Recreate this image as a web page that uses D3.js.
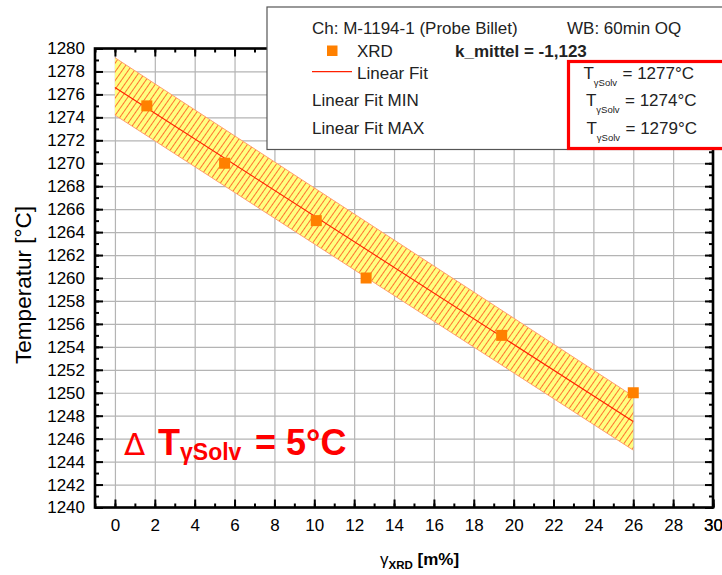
<!DOCTYPE html>
<html>
<head>
<meta charset="utf-8">
<script src="https://cdn.jsdelivr.net/npm/d3@7"></script>
<style>
  html, body { margin: 0; padding: 0; background: #fff; }
  svg { display: block; }
  text { font-family: "Liberation Sans", Arial, sans-serif; }
</style>
</head>
<body>
<svg id="chart" width="722" height="575"></svg>
<script>
// ---------------- data ----------------
const xrdX = [1.6, 5.5, 10.1, 12.6, 19.4, 26.0];
const xrdT = [1275, 1270, 1265, 1260, 1255, 1250];
const fitX = [0, 26];
const fitT = [1276.6, 1247.5];
const fitMinT = [1274.2, 1245.0];
const fitMaxT = [1279.2, 1249.7];
const xTickVals = d3.range(0, 31, 2);
const yTickVals = d3.range(1240, 1281, 2);
const xMinorVals = d3.range(-1, 31, 1);
const yMinorVals = d3.range(1240, 1281, 1);
const legendLines = ["Ch: M-1194-1 (Probe Billet)", "WB: 60min OQ", "XRD", "k_mittel = -1,123", "Linear Fit", "Linear Fit MIN", "Linear Fit MAX"];
const tSolvValues = ["1277", "1274", "1279"];

// ---------------- layout ----------------
const svg = d3.select("#chart");
const L = 95, R = 713, T = 48.5, B = 507.5;
const x = d3.scaleLinear().domain([-1, 30]).range([L, R]);
const y = d3.scaleLinear().domain([1240, 1280]).range([B, T]);

const defs = svg.append("defs");
const pat = defs.append("pattern")
  .attr("id", "hatch").attr("patternUnits", "userSpaceOnUse")
  .attr("width", 5).attr("height", 10)
  .attr("patternTransform", "rotate(35)");
pat.append("rect").attr("width", 5).attr("height", 10).attr("fill", "#ffff80");
pat.append("line").attr("x1", 0.5).attr("x2", 0.5).attr("y1", 0).attr("y2", 10)
  .attr("stroke", "#ff5a20").attr("stroke-width", 0.85);

// grid
const gGrid = svg.append("g");
gGrid.append("g").attr("transform", `translate(0,${B})`)
  .call(d3.axisBottom(x).tickValues(xTickVals).tickSize(-(B - T)).tickFormat(""))
  .call(g => { g.select(".domain").remove(); g.selectAll("line").attr("stroke", "#b4b4b4").attr("stroke-width", 1.2); });
gGrid.append("g").attr("transform", `translate(${L},0)`)
  .call(d3.axisLeft(y).tickValues(yTickVals).tickSize(-(R - L)).tickFormat(""))
  .call(g => { g.select(".domain").remove(); g.selectAll("line").attr("stroke", "#b4b4b4").attr("stroke-width", 1.2); });

// band
const bandData = fitX.map((d, i) => ({ x: d, lo: fitMinT[i], hi: fitMaxT[i] }));
svg.append("path").datum(bandData)
  .attr("d", d3.area().x(d => x(d.x)).y0(d => y(d.lo)).y1(d => y(d.hi)))
  .attr("fill", "url(#hatch)");
const edge = d3.line().x(d => x(d[0])).y(d => y(d[1]));
svg.append("path").datum(fitX.map((d, i) => [d, fitMinT[i]])).attr("d", edge)
  .attr("fill", "none").attr("stroke", "#ffa070").attr("stroke-width", 1);
svg.append("path").datum(fitX.map((d, i) => [d, fitMaxT[i]])).attr("d", edge)
  .attr("fill", "none").attr("stroke", "#ffa070").attr("stroke-width", 1);
svg.append("path").datum(fitX.map((d, i) => [d, fitT[i]])).attr("d", edge)
  .attr("fill", "none").attr("stroke", "#ff2000").attr("stroke-width", 1.1);

// points
svg.append("g").selectAll("rect").data(xrdX.map((d, i) => [d, xrdT[i]])).join("rect")
  .attr("x", d => x(d[0]) - 5.5).attr("y", d => y(d[1]) - 5.5)
  .attr("width", 11).attr("height", 11).attr("fill", "#ff8000");

// axes
function styleAxis(g) {
  g.select(".domain").remove();
  g.selectAll("line").attr("stroke", "#000").attr("stroke-width", 2);
  g.selectAll("text").attr("fill", "#000").style("font-size", "17px");
}
// left
svg.append("g").attr("transform", `translate(${L},0)`)
  .call(d3.axisLeft(y).tickValues(yTickVals).tickSize(-8).tickPadding(10).tickFormat(d3.format("d")))
  .call(styleAxis).call(g => g.selectAll("text").attr("text-anchor", "end"));
svg.append("g").attr("transform", `translate(${L},0)`)
  .call(d3.axisLeft(y).tickValues(yMinorVals).tickSize(-4).tickFormat(""))
  .call(styleAxis);
// right
svg.append("g").attr("transform", `translate(${R},0)`)
  .call(d3.axisRight(y).tickValues(yTickVals).tickSize(-8).tickFormat(""))
  .call(styleAxis);
svg.append("g").attr("transform", `translate(${R},0)`)
  .call(d3.axisRight(y).tickValues(yMinorVals).tickSize(-4).tickFormat(""))
  .call(styleAxis);
// bottom
svg.append("g").attr("transform", `translate(0,${B})`)
  .call(d3.axisBottom(x).tickValues(xTickVals.concat([30])).tickSize(-8).tickPadding(11).tickFormat(d3.format("d")))
  .call(styleAxis);
svg.append("g").attr("transform", `translate(0,${B})`)
  .call(d3.axisBottom(x).tickValues(xMinorVals).tickSize(-4).tickFormat(""))
  .call(styleAxis);
// top
svg.append("g").attr("transform", `translate(0,${T})`)
  .call(d3.axisTop(x).tickValues(xTickVals).tickSize(-8).tickFormat(""))
  .call(styleAxis);
svg.append("g").attr("transform", `translate(0,${T})`)
  .call(d3.axisTop(x).tickValues(xMinorVals).tickSize(-4).tickFormat(""))
  .call(styleAxis);
// frame
svg.append("rect").attr("x", L).attr("y", T).attr("width", R - L).attr("height", B - T)
  .attr("fill", "none").attr("stroke", "#000").attr("stroke-width", 2.6);

// axis titles
svg.append("text").attr("transform", `translate(31,${(T + B) / 2 + 7}) rotate(-90)`)
  .attr("text-anchor", "middle").style("font-size", "22.5px").text("Temperatur [°C]");
const xt = svg.append("text").attr("x", 380).attr("y", 565).attr("text-anchor", "start").style("font-size", "17px");
xt.append("tspan").text("γ");
xt.append("tspan").attr("dy", 4).style("font-size", "11.5px").style("font-weight", "bold").text("XRD");
xt.append("tspan").attr("dy", -4).style("font-weight", "bold").text(" [m%]");

// legend
const lg = svg.append("g");
lg.append("rect").attr("x", 267).attr("y", 7).attr("width", 480).attr("height", 142.5)
  .attr("fill", "#fff").attr("stroke", "#555").attr("stroke-width", 1.2);
const lt = (tx, ty, s, bold) => lg.append("text").attr("x", tx).attr("y", ty)
  .style("font-size", "17px").style("font-weight", bold ? "bold" : "normal").attr("fill", "#222").text(s);
lt(312, 34, legendLines[0]);
lt(567, 34, legendLines[1]);
lg.append("rect").attr("x", 327).attr("y", 45.5).attr("width", 10.5).attr("height", 10.5).attr("fill", "#ff8000");
lt(357, 57, legendLines[2]);
lt(455, 57, legendLines[3], true);
lg.append("line").attr("x1", 312).attr("x2", 352).attr("y1", 71.7).attr("y2", 71.7)
  .attr("stroke", "#ff2000").attr("stroke-width", 1.2);
lt(357, 78.5, legendLines[4]);
lt(312, 106, legendLines[5]);
lt(312, 134, legendLines[6]);

// red box with T values
lg.append("rect").attr("x", 568.5).attr("y", 61.5).attr("width", 200).attr("height", 87)
  .attr("fill", "none").attr("stroke", "#ff0000").attr("stroke-width", 3.2);
const tx0 = [583.5, 586, 586.5], ty0 = [78.5, 106, 134];
tSolvValues.forEach((v, i) => {
  lt(tx0[i], ty0[i], "T");
  lg.append("text").attr("x", tx0[i] + 10.3).attr("y", ty0[i] + 7).style("font-size", "9.5px")
    .attr("fill", "#222").text("γSolv");
  lt(tx0[i] + 39, ty0[i], "= " + v + "°C");
});

// delta annotation
const ann = svg.append("text").attr("x", 124).attr("y", 455).attr("fill", "#ff0000");
ann.append("tspan").style("font-size", "31px").style("font-family", "DejaVu Sans, sans-serif").style("font-weight", "normal").text("Δ");
ann.append("tspan").attr("x", 158).style("font-size", "36px").style("font-weight", "bold").text("T");
ann.append("tspan").attr("dy", 5).style("font-size", "23px").style("font-weight", "bold").text("γSolv");
ann.append("tspan").attr("x", 255).attr("dy", -5).style("font-size", "36px").style("font-weight", "bold").text("= 5°C");
</script>
</body>
</html>
